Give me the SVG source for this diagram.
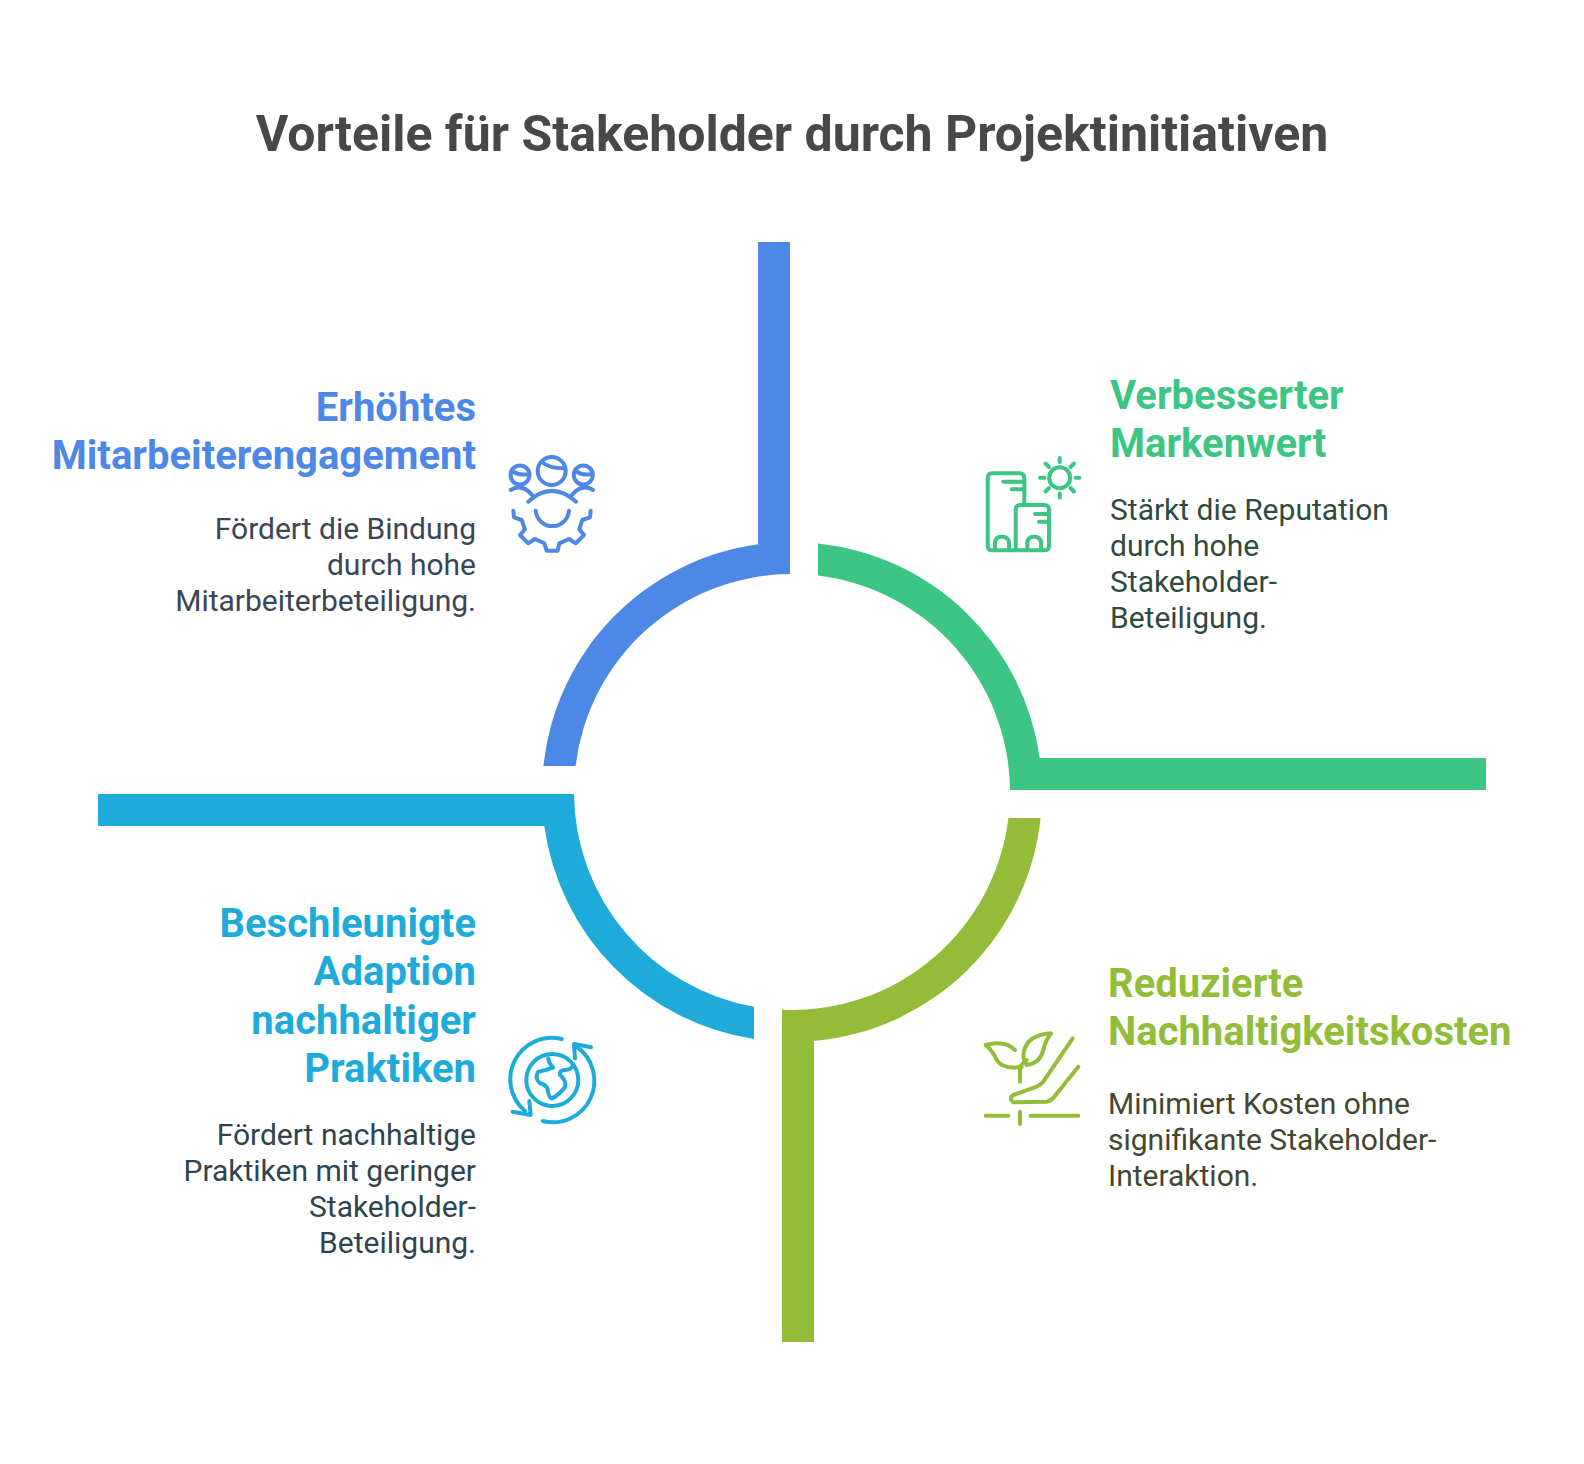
<svg xmlns="http://www.w3.org/2000/svg" width="1584" height="1464" viewBox="0 0 1584 1464">
<style>
text{font-family:Roboto,"Liberation Sans",sans-serif}
.title{font-size:50px;font-weight:700;fill:#484848}
.h{font-size:40px;font-weight:700}
.b{font-size:30px;font-weight:400}
.r{text-anchor:end}
.i{fill:none;stroke-width:4;stroke-linecap:round;stroke-linejoin:round}
.blue{fill:#4e88e7}.green{fill:#3cc583}.olive{fill:#93bd39}.sky{fill:#1eabda}
.sb{stroke:#4e88e7}.sg{stroke:#3cc583}.so{stroke:#93bd39}.ss{stroke:#1eabda}
</style>
<rect width="1584" height="1464" fill="#fff"/>
<text class="title" x="792" y="150.5" text-anchor="middle">Vorteile für Stakeholder durch Projektinitiativen</text>
<g id="connectors">
<path class="blue" d="M758 242H790V574A218 218 0 0 0 575.6 766H543.4A250 250 0 0 1 758 544.3Z"/>
<path class="green" d="M1486 758V790H1010A218 218 0 0 0 818 575.6V543.4A250 250 0 0 1 1039.7 758Z"/>
<path class="olive" d="M782 1342V1009.8A218 218 0 0 0 1008.4 818H1040.6A250 250 0 0 1 814 1041V1342Z"/>
<path class="sky" d="M98 794H574A218 218 0 0 0 754 1006.7V1039A250 250 0 0 1 544.3 826H98Z"/>
</g>
<g id="node-mitarbeiter">
<text class="h blue r" x="476" y="421">Erhöhtes</text>
<text class="h blue r" x="476" y="469">Mitarbeiterengagement</text>
<text class="b r" fill="#3a4556" x="476" y="539">Fördert die Bindung</text>
<text class="b r" fill="#3a4556" x="476" y="575">durch hohe</text>
<text class="b r" fill="#3a4556" x="476" y="610.5">Mitarbeiterbeteiligung.</text>
<g class="i sb">
<circle cx="551.7" cy="471" r="14"/><path d="M541.7 462Q551 469 565 468.3"/>
<circle cx="520" cy="475" r="9.5"/><path d="M512 471Q520 476 528 474"/>
<circle cx="583.3" cy="475" r="9.5"/><path d="M575.5 471Q583 476 591.5 474"/>
<path d="M510.7 490Q522 483 532 495M528.3 501.7Q551.7 480 576 501.7M572 495Q582 483 593 490"/>
<path d="M535.7 510.7A16.7 16.7 0 0 0 569 510.7"/>
<path d="M513.3 510.7L514 517.3L521.7 520L525 529.3L520 535L528.3 543.3L535 539L544.3 543.3L546.7 550.7H557.7L559.3 543.3L569 539L575.7 543.3L584 535L579.3 529.3L582.3 520L590 517.3L590.7 510.7"/>
</g>
</g>
<g id="node-markenwert">
<text class="h green" x="1110" y="409">Verbesserter</text>
<text class="h green" x="1110" y="457">Markenwert</text>
<text class="b" fill="#2f4a3e" x="1110" y="520">Stärkt die Reputation</text>
<text class="b" fill="#2f4a3e" x="1110" y="556">durch hohe</text>
<text class="b" fill="#2f4a3e" x="1110" y="592">Stakeholder-</text>
<text class="b" fill="#2f4a3e" x="1110" y="628">Beteiligung.</text>
<g class="i sg">
<path d="M1024.3 504.3V478.3Q1024.3 473.3 1019.3 473.3H992.3Q987.7 473.3 987.7 478.3V545.7Q987.7 550.3 992.3 550.3H1044Q1049 550.3 1049 545.7V510Q1049 505 1044 505H1020.7Q1015.7 505 1015.7 510V550.3"/>
<path d="M1003.3 481.7H1024.3M1011.7 489.3H1024.3M1035 514H1049M1039 521.7H1049"/>
<path d="M995 550.3V543.3Q995 536.7 1001.7 536.7Q1009 536.7 1009 543.3V550.3M1027.3 550.3V543.3Q1027.3 536.7 1034 536.7Q1041 536.7 1041 543.3V550.3"/>
<circle cx="1059.7" cy="477.7" r="10.5"/>
<path d="M1059.7 458V462M1059.7 493.5V497.5M1040 477.7H1044.5M1075.5 477.7H1079.5M1045.5 463.5L1049 467M1074 463.5L1070.5 467M1045.5 491.5L1049 488M1074 491.5L1070.5 488"/>
</g>
</g>
<g id="node-kosten">
<text class="h olive" x="1108" y="997">Reduzierte</text>
<text class="h olive" x="1108" y="1045">Nachhaltigkeitskosten</text>
<text class="b" fill="#43472f" x="1108" y="1113.5">Minimiert Kosten ohne</text>
<text class="b" fill="#43472f" x="1108" y="1150">signifikante Stakeholder-</text>
<text class="b" fill="#43472f" x="1108" y="1185.5">Interaktion.</text>
<g class="i so">
<path d="M985.7 1045Q1005 1040 1015 1050M985.7 1045Q993.3 1051.7 996.7 1060Q1003.3 1070 1021.7 1066.7"/>
<path d="M1051 1033.3Q1028.3 1035 1024.3 1050Q1021.7 1058.3 1026.7 1065Q1040 1063.3 1043.3 1050Q1045 1041.7 1051 1033.3Z"/>
<path d="M1020 1081.7V1068.3Q1020 1065 1026.7 1060"/>
<path d="M1072.7 1038.3L1043.3 1081.7Q1041 1085 1036.7 1086.7L1013.3 1095Q1008.3 1098.3 1013.3 1102.3L1046.7 1101.7Q1051 1101 1054.3 1096.7L1078.3 1066.7"/>
<path d="M985.7 1115.7H1008.3M1030.7 1115.7H1078.3M1020 1111.7V1124"/>
</g>
</g>
<g id="node-adaption">
<text class="h sky r" x="476" y="937">Beschleunigte</text>
<text class="h sky r" x="476" y="985">Adaption</text>
<text class="h sky r" x="476" y="1034">nachhaltiger</text>
<text class="h sky r" x="476" y="1082">Praktiken</text>
<text class="b r" fill="#2f4450" x="476" y="1145">Fördert nachhaltige</text>
<text class="b r" fill="#2f4450" x="476" y="1181">Praktiken mit geringer</text>
<text class="b r" fill="#2f4450" x="476" y="1216.5">Stakeholder-</text>
<text class="b r" fill="#2f4450" x="476" y="1253">Beteiligung.</text>
<g class="i ss">
<circle cx="552.3" cy="1080" r="26"/>
<path d="M561.7 1039A41.5 41.5 0 0 0 525 1111"/>
<path d="M512.7 1111.7L530.7 1115L529.3 1101"/>
<path d="M542.7 1121A41.5 41.5 0 0 0 577 1047"/>
<path d="M591 1047.3L574 1044L575 1058.3"/>
<path d="M548.3 1058.3Q549 1064 553.3 1067.7Q546 1070.5 538.3 1071.7Q534 1078 540 1083.3Q547 1085 547.7 1090Q549 1098 552 1098.5Q560 1094 565 1087Q567 1081 560 1075Q559 1070 565 1070Q571 1070 573.3 1065"/>
</g>
</g>
</svg>
